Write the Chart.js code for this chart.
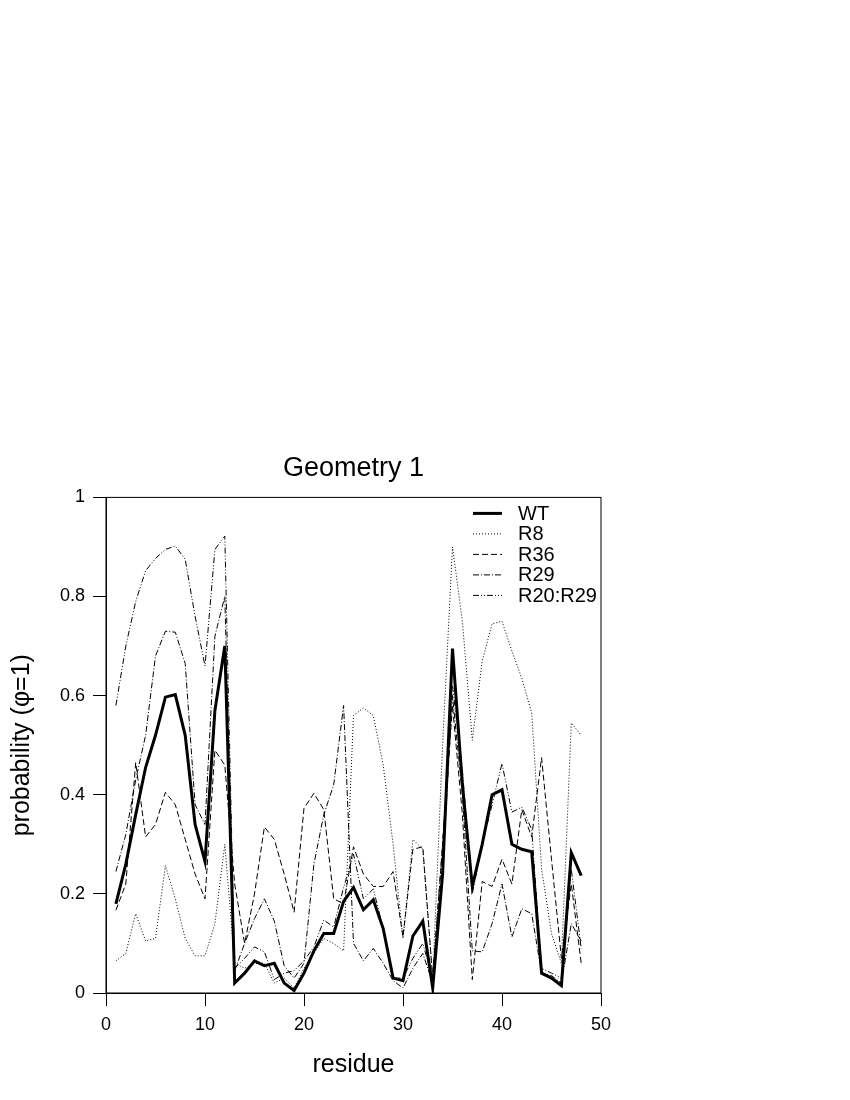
<!DOCTYPE html>
<html>
<head>
<meta charset="utf-8">
<script src="https://cdn.jsdelivr.net/npm/chart.js@4/dist/chart.umd.min.js"></script>
<style>
  html, body { margin: 0; padding: 0; background: #fff; }
  canvas { display: block; }
</style>
</head>
<body>
<canvas id="geomChart" width="850" height="1100"></canvas>
<script>
// residue index and phi=1 probabilities
const residues = [];
for (let r = 1; r <= 48; r++) residues.push(r);

const wt = [0.18, 0.26, 0.36, 0.455, 0.52, 0.597, 0.602, 0.52, 0.34, 0.265,
            0.57, 0.70, 0.02, 0.04, 0.065, 0.055, 0.06, 0.02, 0.005, 0.04,
            0.085, 0.12, 0.12, 0.185, 0.213, 0.168, 0.188, 0.13, 0.03, 0.025,
            0.115, 0.145, 0.01, 0.24, 0.695, 0.42, 0.215, 0.30, 0.40, 0.41,
            0.30, 0.29, 0.285, 0.04, 0.03, 0.015, 0.283, 0.237];
const r8 = [0.065, 0.08, 0.16, 0.105, 0.11, 0.257, 0.19, 0.11, 0.075, 0.075,
            0.14, 0.30, 0.06, 0.05, 0.06, 0.06, 0.02, 0.03, 0.01, 0.05,
            0.08, 0.11, 0.10, 0.085, 0.56, 0.575, 0.56, 0.46, 0.30, 0.11,
            0.31, 0.29, 0.03, 0.50, 0.90, 0.75, 0.51, 0.67, 0.745, 0.75,
            0.69, 0.635, 0.565, 0.25, 0.12, 0.06, 0.545, 0.52];
const r36 = [0.167, 0.22, 0.465, 0.315, 0.34, 0.405, 0.38, 0.31, 0.24, 0.19,
             0.49, 0.46, 0.22, 0.10, 0.20, 0.335, 0.31, 0.24, 0.163, 0.373,
             0.403, 0.37, 0.19, 0.18, 0.295, 0.24, 0.215, 0.215, 0.245, 0.113,
             0.29, 0.295, 0.03, 0.30, 0.58, 0.36, 0.027, 0.225, 0.215, 0.27,
             0.22, 0.37, 0.315, 0.475, 0.27, 0.07, 0.22, 0.06];
const r29 = [0.245, 0.32, 0.43, 0.52, 0.68, 0.73, 0.728, 0.665, 0.38, 0.34,
             0.72, 0.80, 0.045, 0.10, 0.15, 0.19, 0.145, 0.055, 0.03, 0.06,
             0.26, 0.36, 0.42, 0.58, 0.10, 0.065, 0.09, 0.06, 0.025, 0.01,
             0.05, 0.08, 0.02, 0.25, 0.60, 0.40, 0.085, 0.083, 0.14, 0.22,
             0.113, 0.17, 0.16, 0.04, 0.035, 0.02, 0.14, 0.105];
const r20r29 = [0.58, 0.70, 0.79, 0.852, 0.877, 0.895, 0.902, 0.875, 0.76, 0.66,
                0.895, 0.922, 0.05, 0.07, 0.093, 0.083, 0.027, 0.04, 0.045, 0.065,
                0.093, 0.147, 0.133, 0.213, 0.28, 0.19, 0.21, 0.13, 0.03, 0.03,
                0.07, 0.10, 0.03, 0.30, 0.62, 0.45, 0.20, 0.30, 0.38, 0.463,
                0.365, 0.375, 0.33, 0.05, 0.04, 0.03, 0.25, 0.09];

const xTicks = [0, 10, 20, 30, 40, 50];
const yTicks = [0, 0.2, 0.4, 0.6, 0.8, 1];

const FONT = "'Liberation Sans', Arial, Helvetica, sans-serif";

function pts(vals) {
    return vals.map((v, i) => ({ x: residues[i], y: v }));
}

function series(label, vals, width, dash) {
    return {
        label: label,
        data: pts(vals),
        borderColor: '#000',
        borderWidth: width,
        borderDash: dash,
        pointRadius: 0,
        tension: 0,
        fill: false
    };
}

// box round the plot + legend inside the top-right corner
const framePlugin = {
    id: 'frame',
    afterDraw(chart) {
        const { ctx, chartArea: a } = chart;
        ctx.save();
        ctx.strokeStyle = '#000';
        ctx.lineWidth = 1;
        ctx.setLineDash([]);
        ctx.strokeRect(a.left, a.top, a.right - a.left, a.bottom - a.top);

        let y = a.top + 16;
        const x0 = a.right - 128, x1 = a.right - 99, tx = a.right - 83;
        ctx.font = '20px ' + FONT;
        ctx.textBaseline = 'middle';
        ctx.fillStyle = '#000';
        chart.data.datasets.forEach(ds => {
            ctx.beginPath();
            ctx.lineWidth = ds.borderWidth;
            ctx.setLineDash(ds.borderDash || []);
            ctx.moveTo(x0, y);
            ctx.lineTo(x1, y);
            ctx.stroke();
            ctx.setLineDash([]);
            ctx.fillText(ds.label, tx, y + 1);
            y += 20.5;
        });
        ctx.restore();
    }
};

const ctx = document.getElementById('geomChart').getContext('2d');
const chart = new Chart(ctx, {
    type: 'line',
    data: {
        datasets: [
            series('WT', wt, 3, []),
            series('R8', r8, 1, [1, 2]),
            series('R36', r36, 1, [6, 3]),
            series('R29', r29, 1, [6, 2, 1, 2]),
            series('R20:R29', r20r29, 1, [6, 2, 1, 2, 1, 2])
        ]
    },
    plugins: [framePlugin],
    options: {
        responsive: false,
        animation: false,
        layout: { padding: { top: 0, right: 249, bottom: 0, left: 0 } },
        plugins: {
            legend: { display: false },
            tooltip: { enabled: false },
            title: {
                display: true,
                text: 'Geometry 1',
                fullSize: false,
                color: '#000',
                font: { family: FONT, size: 27, weight: 'normal' },
                padding: { top: 452, bottom: 13 }
            }
        },
        scales: {
            x: {
                type: 'linear',
                min: 0,
                max: 50,
                afterFit(scale) { scale.height = 107; },
                afterBuildTicks(scale) { scale.ticks = xTicks.map(v => ({ value: v })); },
                grid: { drawOnChartArea: false, drawTicks: true, tickLength: 13, color: '#000' },
                border: { display: true, color: '#000', width: 1 },
                ticks: { color: '#000', padding: 8, maxRotation: 0,
                         font: { family: FONT, size: 18 } },
                title: {
                    display: true,
                    text: 'residue',
                    color: '#000',
                    font: { family: FONT, size: 25 },
                    padding: { top: 0, bottom: 20 }
                }
            },
            y: {
                type: 'linear',
                min: 0,
                max: 1,
                afterFit(scale) { scale.width = 106; },
                afterBuildTicks(scale) { scale.ticks = yTicks.map(v => ({ value: v })); },
                grid: { drawOnChartArea: false, drawTicks: true, tickLength: 13, color: '#000' },
                border: { display: true, color: '#000', width: 1 },
                ticks: { color: '#000', padding: 8,
                         callback: v => String(v),
                         font: { family: FONT, size: 18 } },
                title: {
                    display: true,
                    text: 'probability (\u03c6=1)',
                    color: '#000',
                    font: { family: FONT, size: 25 },
                    padding: { top: 7, bottom: 0 }
                }
            }
        }
    }
});
</script>
</body>
</html>
